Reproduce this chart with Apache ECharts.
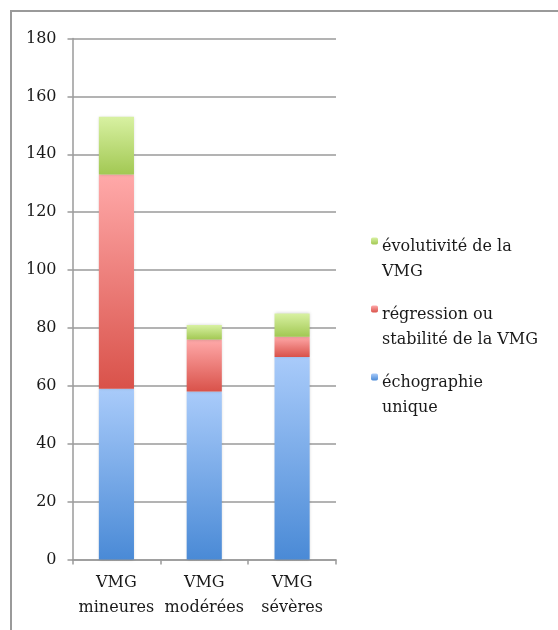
<!DOCTYPE html>
<html>
<head>
<meta charset="utf-8">
<script src="https://cdn.jsdelivr.net/npm/echarts@6/dist/echarts.min.js"></script>
<style>html,body{margin:0;padding:0;background:#fff}#c{width:558px;height:630px}</style>
</head>
<body>
<div id="c"></div>
<script>
const categories = ['VMG\nmineures', 'VMG\nmodérées', 'VMG\nsévères'];
const echoUnique = [59, 58, 70];
const regression = [74, 18, 7];
const evolutivite = [20, 5, 8];
const seriesNames = ['échographie\nunique', 'régression ou\nstabilité de la VMG', 'évolutivité de la\nVMG'];
const yTicks = { min: 0, max: 180, interval: 20 };

const FONT = 'DejaVu Serif';
function grad(top, bottom) {
  return new echarts.graphic.LinearGradient(0, 0, 0, 1, [
    { offset: 0, color: top }, { offset: 1, color: bottom }
  ]);
}
const colors = [
  grad('#a9cbfa', '#4a8ad6'),
  grad('#ffa9a9', '#d9524a'),
  grad('#d8f1a2', '#a2c853')
];
const dataArrays = [echoUnique, regression, evolutivite];

const chart = echarts.init(document.getElementById('c'), null, { renderer: 'canvas' });

function legendFor(name, top) {
  return {
    data: [name],
    left: 371,
    top: top,
    padding: 0,
    orient: 'vertical',
    itemWidth: 7,
    itemHeight: 7,
    itemGap: 0,
    selectedMode: false,
    formatter: n => n.split('\n').map(l => '{t|' + l + '}').join('\n'),
    textStyle: {
      fontFamily: FONT, fontSize: 16, color: '#1a1a1a',
      padding: [37, 0, 0, -1],
      rich: { t: { fontFamily: FONT, fontSize: 16, color: '#1a1a1a', lineHeight: 25 } }
    }
  };
}

chart.setOption({
  animation: false,
  textStyle: { fontFamily: FONT },
  graphic: [{
    type: 'rect',
    shape: { x: 11, y: 11, width: 700, height: 800 },
    style: { fill: 'none', stroke: '#9a9a9a', lineWidth: 2 },
    silent: true
  }],
  grid: { left: 72.5, right: 222, top: 38.5, bottom: 70.5, containLabel: false },
  legend: [
    legendFor(seriesNames[2], 237.5),
    legendFor(seriesNames[1], 305.5),
    legendFor(seriesNames[0], 373.5)
  ],
  xAxis: {
    type: 'category',
    data: categories,
    axisLine: { lineStyle: { color: '#9a9a9a', width: 1.5 } },
    axisTick: { show: true, alignWithLabel: false, length: 5, lineStyle: { color: '#9a9a9a', width: 1.5 } },
    axisLabel: { interval: 0, fontFamily: FONT, fontSize: 16, color: '#1a1a1a', lineHeight: 25, margin: 11 }
  },
  yAxis: {
    type: 'value',
    min: yTicks.min, max: yTicks.max, interval: yTicks.interval,
    axisLine: { show: true, lineStyle: { color: '#9a9a9a', width: 1.5 } },
    axisTick: { show: true, length: 5, lineStyle: { color: '#9a9a9a', width: 1.5 } },
    splitLine: { lineStyle: { color: '#9a9a9a', width: 1.5 } },
    axisLabel: { fontFamily: FONT, fontSize: 16, color: '#1a1a1a', margin: 16 }
  },
  series: dataArrays.map((arr, i) => ({
    name: seriesNames[i],
    type: 'bar',
    stack: 'total',
    barWidth: '40%',
    data: arr,
    itemStyle: {
      color: colors[i],
      shadowBlur: 3,
      shadowColor: 'rgba(0,0,0,0.18)'
    }
  }))
});
</script>
</body>
</html>
